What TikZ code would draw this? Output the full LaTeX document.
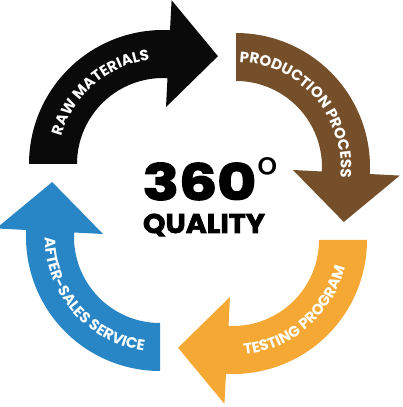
\documentclass[tikz,border=0pt]{standalone}
\usepackage{fontspec}
\newfontfamily\popfont{Poppins}
\newfontfamily\popheavy{Poppins}[BoldFeatures={FakeBold=2.5}]
\usetikzlibrary{decorations.text}
\definecolor{rawblack}{HTML}{0A0A0A}
\definecolor{prodbrown}{HTML}{754F29}
\definecolor{testorange}{HTML}{F5A833}
\definecolor{serviceblue}{HTML}{2885C6}
\newcommand\labelfont{\popfont\fontsize{15}{15}\selectfont\bfseries}

\begin{document}
\begin{tikzpicture}[x=1pt, y=1pt]
  \useasboundingbox (0,0) rectangle (402,407);
  % four arrows, each one the black one turned by a quarter
  \foreach \k/\col/\txt/\flip in {0/rawblack/RAW MATERIALS/0, 1/prodbrown/PRODUCTION PROCESS/0,
                                  2/testorange/TESTING PROGRAM/1, 3/serviceblue/AFTER-SALES SERVICE/1}{
    \begin{scope}[xshift=198pt, yshift=205pt, rotate=-90*\k, xshift=-35pt, yshift=38pt]
      \fill[\col] (180:134) arc[start angle=180, end angle=87, radius=134pt]
        -- (87:164) -- (63:121) -- (87:57) -- (87:86)
        arc[start angle=87, end angle=180, radius=86pt] -- cycle;
      \ifnum\flip=0
        \path[decorate, decoration={text along path, text align=center, text color=white,
          text/.expanded={|\noexpand\labelfont|\txt}}]
          (201:104.8) arc[start angle=201, end angle=61, radius=104.8pt];
      \else
        \path[decorate, decoration={text along path, text align=center, text color=white,
          text/.expanded={|\noexpand\labelfont|\txt}}]
          (61:115.2) arc[start angle=61, end angle=201, radius=115.2pt];
      \fi
    \end{scope}
  }
  % centre text
  \node[anchor=base, inner sep=0pt, font=\popheavy\fontsize{50}{50}\selectfont\bfseries] (threesixty) at (199.5,207) {\scalebox{1.2}[1]{360}};
  \node[anchor=center, inner sep=0pt, font=\popfont\fontsize{50}{50}\selectfont] (degree) at (268,232) {°};
  \node[anchor=base, inner sep=0pt, font=\popheavy\fontsize{27}{27}\selectfont\bfseries] (quality) at (204,174) {\scalebox{1.06}[1]{QUALITY}};
\end{tikzpicture}
\end{document}
